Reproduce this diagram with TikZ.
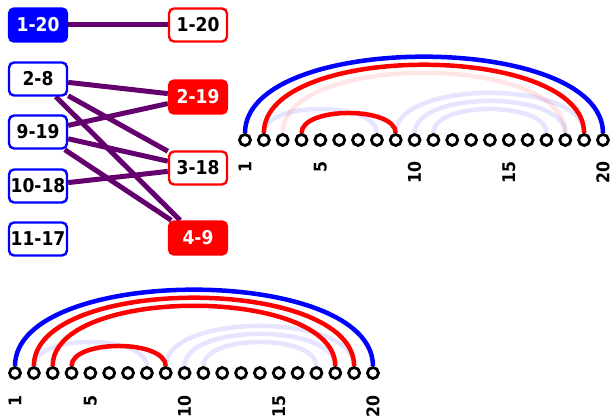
\documentclass[tikz,border=0pt]{standalone}
\usepackage{fontspec}
\setmainfont{DejaVu Sans Condensed}
\usetikzlibrary{positioning,backgrounds}
\definecolor{linkpurple}{RGB}{100,0,110}

\begin{document}
\begin{tikzpicture}[x=1pt, y=1pt,
      font=\fontsize{19}{21}\selectfont\bfseries,
      box/.style={line width=2.4pt, rounded corners=5pt, minimum width=58pt, minimum height=33pt, inner sep=0pt},
      lbox/.style={box, draw=blue, fill=white},
      lsel/.style={box, draw=blue, fill=blue, text=white},
      rbox/.style={box, draw=red, fill=white},
      rsel/.style={box, draw=red, fill=red, text=white},
      link/.style={draw=linkpurple, line width=5pt},
      dot/.style={circle, draw=black, line width=2.8pt, fill=white, minimum size=11pt, inner sep=0pt},
      num/.style={rotate=90, anchor=east, inner sep=0pt, font=\fontsize{17.5}{19}\selectfont\bfseries},
      pair/.style={line width=4.5pt, out=90, in=90, looseness=0.73},
      ghost/.style={draw opacity=0.1}
    ]
    \useasboundingbox (0,0) rectangle (613,419);

    % ===== compatibility graph (left) =====
    \node[lsel] (l120)  at (38,394) {1-20};
    \node[lbox] (l28)   at (38,340) {2-8};
    \node[lbox] (l919)  at (38,287) {9-19};
    \node[lbox] (l1018) at (38,233) {10-18};
    \node[lbox] (l1117) at (38,180) {11-17};

    \node[rbox] (r120) at (198,394) {1-20};
    \node[rsel] (r219) at (198,322) {2-19};
    \node[rbox] (r318) at (198,251) {3-18};
    \node[rsel] (r49)  at (198,181) {4-9};

    \begin{scope}[on background layer]
    \draw[link] (l120) -- (r120);
    \draw[link] (l28) -- (r219);
    \draw[link] (l28) -- (r318);
    \draw[link] (l28) -- (r49);
    \draw[link] (l919) -- (r219);
    \draw[link] (l919) -- (r318);
    \draw[link] (l919) -- (r49);
    \draw[link] (l1018) -- (r318);
    \end{scope}

    % ===== arc diagram (top right) =====
    \foreach \i in {1,...,20}
      \node[dot] (a\i) at ({245+(\i-1)*18.84},279) {};
    \foreach \i in {1,5,10,15,20}
      \node[num] (na\i) at ({245+(\i-1)*18.84},258) {\i};

    \begin{scope}[on background layer]
    \draw[pair, ghost, blue] (a2.north) to (a8.north);
    \draw[pair, ghost, blue] (a9.north) to (a19.north);
    \draw[pair, ghost, blue] (a10.north) to (a18.north);
    \draw[pair, ghost, blue] (a11.north) to (a17.north);
    \draw[pair, ghost, red] (a3.north) to (a18.north);
    \draw[pair, blue] (a1.north) to (a20.north);
    \draw[pair, red] (a2.north) to (a19.north);
    \draw[pair, red] (a4.north) to (a9.north);
    \end{scope}

    % ===== arc diagram (bottom left) =====
    \foreach \i in {1,...,20}
      \node[dot] (b\i) at ({15+(\i-1)*18.84},46) {};
    \foreach \i in {1,5,10,15,20}
      \node[num] (nb\i) at ({15+(\i-1)*18.84},24) {\i};

    \begin{scope}[on background layer]
    \draw[pair, ghost, blue] (b2.north) to (b8.north);
    \draw[pair, ghost, blue] (b9.north) to (b19.north);
    \draw[pair, ghost, blue] (b10.north) to (b18.north);
    \draw[pair, ghost, blue] (b11.north) to (b17.north);
    \draw[pair, blue] (b1.north) to (b20.north);
    \draw[pair, red] (b2.north) to (b19.north);
    \draw[pair, red] (b3.north) to (b18.north);
    \draw[pair, red] (b4.north) to (b9.north);
    \end{scope}
    \end{tikzpicture}
\end{document}
